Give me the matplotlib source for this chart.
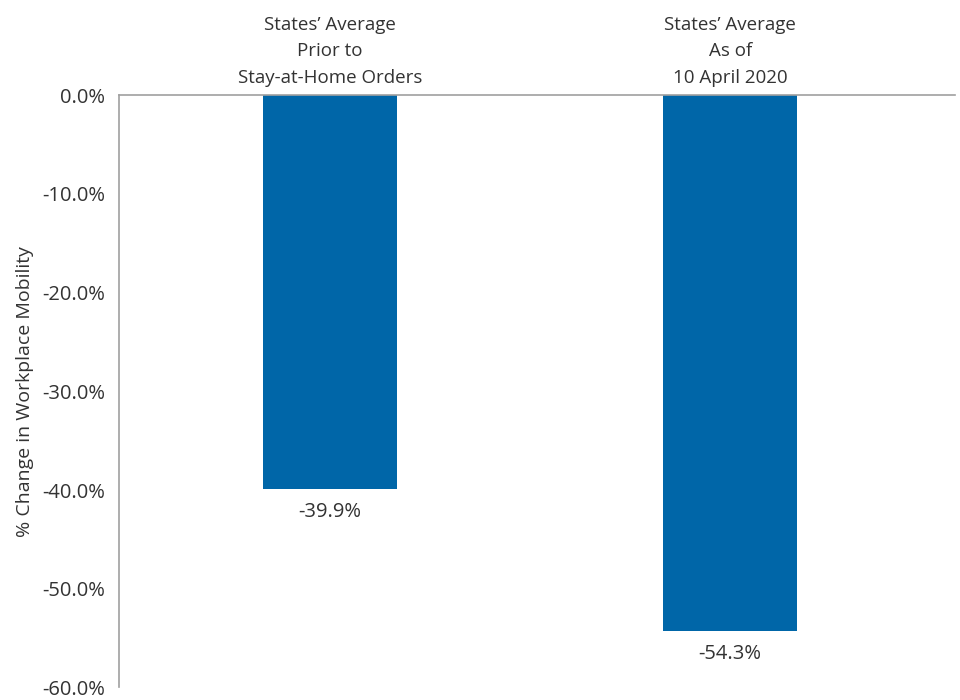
import matplotlib.pyplot as plt
import numpy as np

plt.rcParams['font.family'] = ['Open Sans', 'DejaVu Sans']

# data
categories = ['States\u2019 Average\nPrior to\nStay-at-Home Orders',
              'States\u2019 Average\nAs of\n10 April 2020']
values = [-39.9, -54.3]
value_labels = ['-39.9%', '-54.3%']
yticks = [0, -10, -20, -30, -40, -50, -60]

bar_color = '#0066A8'
text_color = '#333333'

fig = plt.figure(figsize=(9.6, 7.0), dpi=100)
ax = fig.add_axes([0.124, 0.018, 0.871, 0.846])

x = np.arange(len(categories))
ax.bar(x, values, width=0.335, color=bar_color, zorder=2)

# value labels below bars
for xi, v, lab in zip(x, values, value_labels):
    ax.annotate(lab, (xi, v), xytext=(0, -9), textcoords='offset points',
                ha='center', va='top', fontsize=14.5, color=text_color)

ax.set_xlim(-0.5275, 1.5625)
ax.set_ylim(-60, 0)
ax.set_yticks(yticks)
ax.set_yticklabels(['%.1f%%' % t for t in yticks], fontsize=14.5, color=text_color)
ax.tick_params(axis='y', length=0, pad=10)

# category names on top
ax.xaxis.tick_top()
ax.set_xticks(x)
ax.set_xticklabels(categories, fontsize=13.5, color=text_color, linespacing=1.6)
ax.tick_params(axis='x', length=0, pad=6)

ax.set_ylabel('% Change in Workplace Mobility', fontsize=14, color=text_color, labelpad=6)

for s in ['bottom', 'right']:
    ax.spines[s].set_visible(False)
for s in ['top', 'left']:
    ax.spines[s].set_color('#a0a0a0')
    ax.spines[s].set_linewidth(1.2)

fig.savefig('out.png', dpi=100)
